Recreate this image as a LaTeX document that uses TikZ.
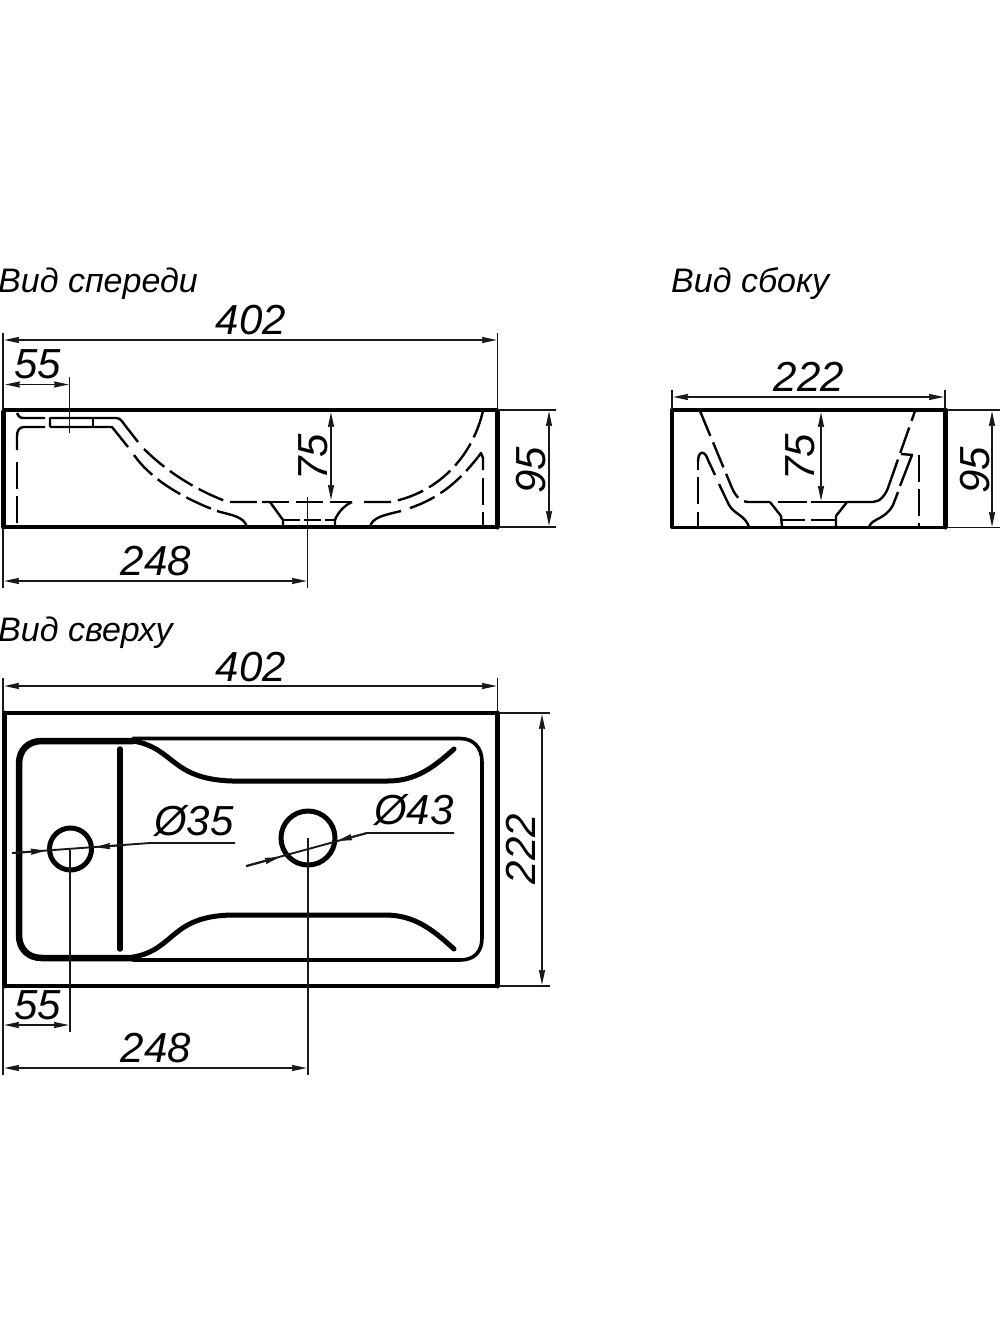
\documentclass[tikz,border=0pt]{standalone}
\usepackage{fontspec}
\setmainfont{Liberation Sans}
\usetikzlibrary{arrows.meta}
\tikzset{
  thin line/.style={line width=1.9pt,black!90},
  outline/.style={line width=3.8pt,line cap=round,line join=round},
  thick edge/.style={line width=5pt,line cap=round,line join=round},
  rim/.style={line width=3.6pt,line cap=round,line join=round},
  hidden/.style={line width=2.4pt,dash pattern=on 27pt off 7pt},
  hidshort/.style={line width=2.4pt,dash pattern=on 17pt off 4pt},
  solidh/.style={line width=2.4pt,line join=round},
  tipped/.style={-{Stealth[length=15pt,width=6pt,inset=1pt]}},
  dim/.style={line width=1.9pt,black!90,{Stealth[length=15pt,width=6pt,inset=1pt]}-{Stealth[length=15pt,width=6pt,inset=1pt]}},
  num/.style={font=\fontsize{42}{42}\selectfont\itshape,inner sep=0pt},
  captext/.style={font=\fontsize{34}{34}\selectfont\itshape,inner sep=0pt,anchor=west},
}
\begin{document}
\begin{tikzpicture}[x=1pt,y=-1pt]
\useasboundingbox (0,0) rectangle (1000,1340);
% ---------- captions
\node[captext] (c1) at (-2,284) {Вид спереди};
\node[captext] (c2) at (671,284) {Вид сбоку};
\node[captext] (c3) at (-2,633) {Вид сверху};
% ---------- FRONT VIEW
\draw[outline] (4,527) -- (497,527);
\draw[outline] (4,410) -- (497,410);
\draw[thick edge] (3.5,412) -- (3.5,527);
\draw[thick edge] (497,412) -- (497,527);
% hidden
\draw[solidh] (17,413) .. controls (19,417) and (20,418) .. (24,418) -- (45,418);
\draw[solidh] (50,427) -- (50,418) -- (116,418) .. controls (120,418) and (122,421) .. (124,424) -- (138,442);
\draw[solidh] (93,418) -- (93,427);
\draw[solidh] (50,427) -- (112,427) -- (128,447);
\draw[solidh] (45,427) -- (24,427) .. controls (19,427) and (17,431) .. (17,436) -- (17,450);
\draw[hidden] (17,462) -- (17,527);
\draw[hidden] (144,449) .. controls (165,470) and (195,490) .. (228,502) -- (262,502);
\draw[hidden] (134,455) .. controls (150,478) and (180,497) .. (217,511);
\draw[solidh] (217,511) .. controls (230,515) and (244,516) .. (247,527);
\draw[solidh] (262,502) -- (270,502) -- (283,520) -- (283,527);
\draw[hidshort] (283,520) -- (335,520);
\draw[hidden] (262,502) -- (352,502);
\draw[solidh] (335,527) -- (335,520) .. controls (338,512) and (345,505) .. (352,502);
\draw[hidden] (364,502) -- (390,502) .. controls (430,495) and (470,465) .. (483,411);
\draw[solidh] (370,527) .. controls (372,517) and (385,515) .. (401,511);
\draw[hidden] (410,508) .. controls (440,498) and (460,480) .. (478,457);
\draw[solidh] (478,457) -- (481,453) -- (483,458) -- (483,470);
\draw[hidden] (483,478) -- (483,527);
% dims front
\draw[thin line] (3,333) -- (3,410);
\draw[thin line] (497.5,333) -- (497.5,410);
\draw[dim] (4,340) -- (497,340);
\draw[thin line] (69.5,377) -- (69.5,433);
\draw[dim] (5,384.5) -- (69,384.5);
\draw[thin line] (3,527) -- (3,588);
\draw[thin line] (307.5,497) -- (307.5,588);
\draw[dim] (4,581) -- (307,581);
\draw[thin line] (498,410) -- (556,410);
\draw[thin line] (498,527) -- (556,527);
\draw[dim] (549,411) -- (549,526);
\draw[dim] (331,412) -- (331,500);
\node[num] (n1) at (251,320) {402};
\node[num] (n2) at (38,364) {55};
\node[num] (n3) at (156,561) {248};
\node[num,rotate=90] (n4) at (313,457) {75};
\node[num,rotate=90] (n5) at (531,470) {95};
% ---------- SIDE VIEW
\draw[outline] (672,527.5) -- (945,527.5);
\draw[outline] (672,410) -- (945,410);
\draw[rim] (672,410) -- (672,527);
\draw[thick edge] (945,410) -- (945,527);
\draw[hidden] (700,411) -- (732,488) .. controls (736,497) and (741,502) .. (748,502) -- (770,502);
\draw[solidh] (770,502) -- (781,516) -- (782,527);
\draw[solidh] (782,520) -- (805,520);
\draw[solidh] (811,520) -- (836,520);
\draw[solidh] (778,502) -- (807,502);
\draw[solidh] (811,502) -- (847,502);
\draw[solidh] (836,527) -- (836,516) -- (847,502) -- (873,502) .. controls (880,502) and (886,495) .. (889,485);
\draw[hidden] (889,485) -- (915,411);
\draw[solidh] (698,527) -- (698,512);
\draw[hidden] (698,504) -- (698,462);
\draw[solidh] (698,462) .. controls (698,450) and (705,450) .. (708,460) -- (715,475);
\draw[solidh] (719,484) -- (729,505) .. controls (735,515) and (745,515) .. (749,527);
\draw[solidh] (869,527) .. controls (872,518) and (885,520) .. (893,505) -- (898,492);
\draw[solidh] (900,486) -- (912,455);
\draw[solidh] (901,454) -- (913,455);
\draw[hidden] (919,455) -- (919,527);
% dims side
\draw[thin line] (672,390) -- (672,410);
\draw[thin line] (945,390) -- (945,410);
\draw[dim] (673,397) -- (944,397);
\draw[dim] (821,412) -- (821,501);
\draw[thin line] (947,410) -- (1000,410);
\draw[thin line] (947,527.5) -- (1000,527.5);
\draw[dim] (992,411) -- (992,527);
\node[num] (n6) at (809,377) {222};
\node[num,rotate=90] (n7) at (800,457) {75};
\node[num,rotate=90] (n8) at (975,470) {95};
% ---------- TOP VIEW
\draw[outline] (4,713) -- (497,713);
\draw[outline] (4,986) -- (497,986);
\draw[thick edge] (4,713) -- (4,986);
\draw[thick edge] (497.5,713) -- (497.5,986);
% basin
\draw[thick edge,line width=6.5pt] (133,958) -- (42,958) .. controls (28,958) and (19,949) .. (19,935) -- (19,764) .. controls (19,750) and (28,741) .. (42,741) -- (133,741);
\draw[rim] (133,738.5) -- (460,738.5) .. controls (474,738.5) and (482,748) .. (482,762) -- (482,938) .. controls (482,952) and (474,960) .. (460,960) -- (133,960);
\draw[thick edge] (133,741) .. controls (175,748) and (170,779) .. (232,781) -- (388,781) .. controls (415,781) and (433,768) .. (454,749);
\draw[thick edge] (133,957) .. controls (175,950) and (170,916) .. (232,915) -- (385,915) .. controls (415,915) and (433,930) .. (454,949);
\draw[thick edge,line width=5.5pt] (120,749) -- (120,949);
% holes
\node[circle,draw,line width=5pt,minimum size=42pt,inner sep=0pt] (h1) at (70.5,849) {};
\node[circle,draw,line width=5pt,minimum size=54pt,inner sep=0pt] (h2) at (308,838) {};
% leaders
\draw[thin line] (12,853) -- (150,843) -- (235,843);
\draw[thin line,tipped] (14,853) -- (46,850.6);
\draw[thin line,tipped] (125,845) -- (95,847.2);
\draw[thin line] (246,866) -- (367,833) -- (454,833);
\draw[thin line,tipped] (247,866) -- (280,857);
\draw[thin line,tipped] (366,833.3) -- (337,841);
% dims top
\draw[thin line] (3,678) -- (3,713);
\draw[thin line] (497.5,678) -- (497.5,713);
\draw[dim] (4,686) -- (497,686);
\draw[thin line] (70,850) -- (70,1032);
\draw[thin line] (3,986) -- (3,1075);
\draw[thin line] (308,838) -- (308,1075);
\draw[dim] (4,1025) -- (69,1025);
\draw[dim] (4,1068) -- (307,1068);
\draw[thin line] (499,713) -- (550,713);
\draw[thin line] (499,986) -- (550,986);
\draw[dim] (542,714) -- (542,985);
\node[num] (n9) at (251,667) {402};
\node[num] (n10) at (38,1005) {55};
\node[num] (n11) at (156,1048) {248};
\node[num] (n12) at (194,821) {Ø35};
\node[num] (n13) at (414,810) {Ø43};
\node[num,rotate=90] (n14) at (521,849) {222};
\end{tikzpicture}
\end{document}
